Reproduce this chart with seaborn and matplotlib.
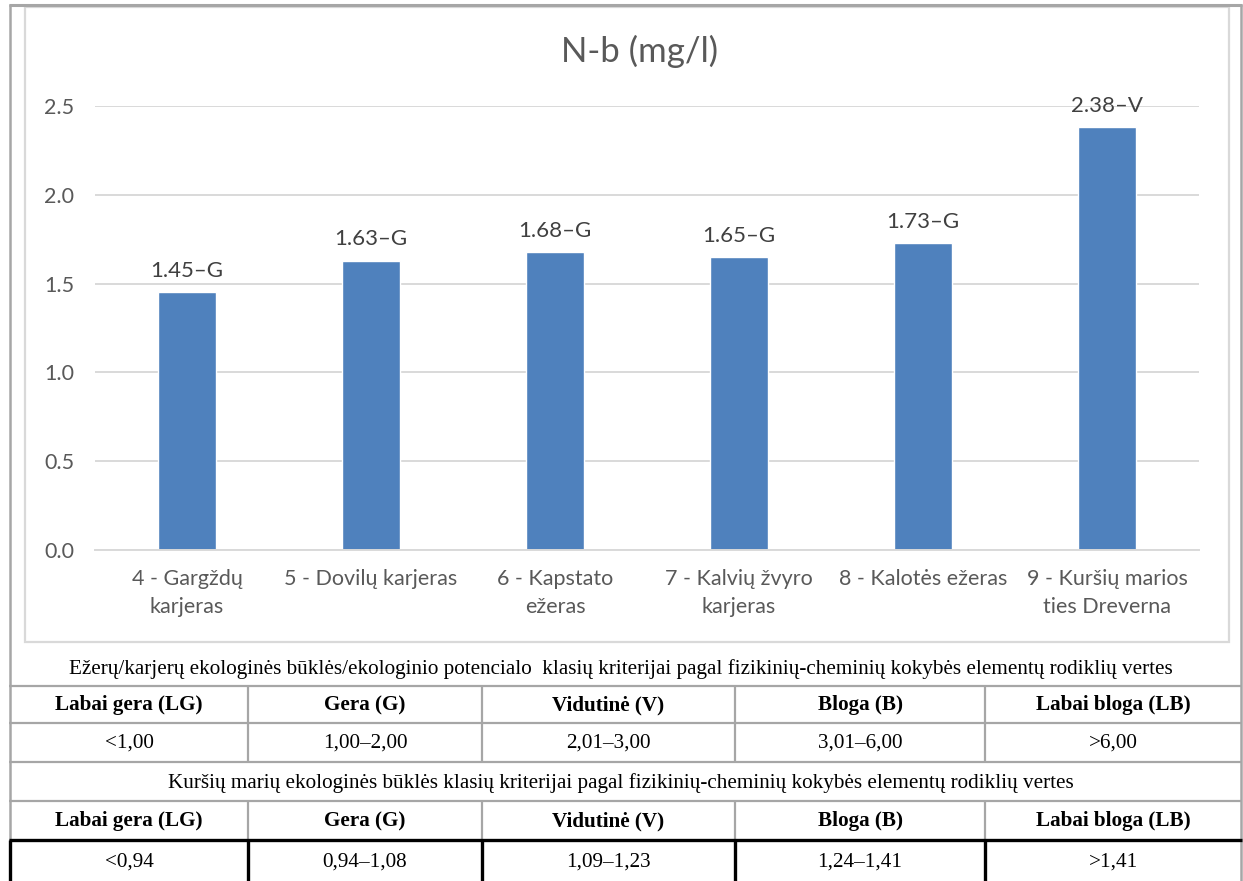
import matplotlib
matplotlib.use("Agg")
import matplotlib.pyplot as plt
from matplotlib.lines import Line2D
from matplotlib.patches import Rectangle
import seaborn as sns

# Sampling sites and total nitrogen concentration (mg/l)
sites = [
    "4 - Gargždų\nkarjeras",
    "5 - Dovilų karjeras",
    "6 - Kapstato\nežeras",
    "7 - Kalvių žvyro\nkarjeras",
    "8 - Kalotės ežeras",
    "9 - Kuršių marios\nties Dreverna",
]
n_total = [1.45, 1.63, 1.68, 1.65, 1.73, 2.38]
status = ["G", "G", "G", "G", "G", "V"]
y_ticks = [0.0, 0.5, 1.0, 1.5, 2.0, 2.5]
chart_title = "N-b (mg/l)"

# Classification criteria tables
lake_caption = ("Ežerų/karjerų ekologinės būklės/ekologinio potencialo  klasių kriterijai "
                "pagal fizikinių-cheminių kokybės elementų rodiklių vertes")
lagoon_caption = ("Kuršių marių ekologinės būklės klasių kriterijai pagal "
                  "fizikinių-cheminių kokybės elementų rodiklių vertes")
class_names = ["Labai gera (LG)", "Gera (G)", "Vidutinė (V)", "Bloga (B)", "Labai bloga (LB)"]
lake_limits = ["<1,00", "1,00–2,00", "2,01–3,00", "3,01–6,00", ">6,00"]
lagoon_limits = ["<0,94", "0,94–1,08", "1,09–1,23", "1,24–1,41", ">1,41"]

W, H = 1243, 881
fig = plt.figure(figsize=(W / 100, H / 100), dpi=100)
sns.set_style("white")
plt.rcParams["font.family"] = ["Lato", "DejaVu Sans"]


def fx(px):
    return px / W


def fy(py):
    return 1 - py / H


def hline(y, x0, x1, color, lw):
    fig.add_artist(Line2D([fx(x0), fx(x1)], [fy(y), fy(y)], color=color, lw=lw,
                          solid_capstyle="butt", transform=fig.transFigure))


def vline(x, y0, y1, color, lw):
    fig.add_artist(Line2D([fx(x), fx(x)], [fy(y0), fy(y1)], color=color, lw=lw,
                          solid_capstyle="butt", transform=fig.transFigure))


# Bar chart
ax = fig.add_axes([fx(95), fy(550), fx(1199) - fx(95), fy(106) - fy(550)])
sns.barplot(x=sites, y=n_total, color="#4F81BD", saturation=1, width=0.31, ax=ax)
ax.set_ylim(0, 2.5)
ax.set_yticks(y_ticks)
ax.set_yticklabels([f"{t:.1f}" for t in y_ticks])
ax.yaxis.grid(True, color="#D9D9D9", lw=1.4)
ax.set_axisbelow(True)
for side in ["top", "right", "left"]:
    ax.spines[side].set_visible(False)
ax.spines["bottom"].set_color("#D9D9D9")
ax.spines["bottom"].set_linewidth(1.4)
ax.tick_params(axis="both", length=0, labelcolor="#595959", labelsize=15.5)
ax.tick_params(axis="y", pad=15)
ax.tick_params(axis="x", pad=14)
for lbl in ax.get_xticklabels():
    lbl.set_linespacing(1.45)
ax.set_xlabel("")
ax.set_ylabel("")

for i, (v, s) in enumerate(zip(n_total, status)):
    ax.annotate(f"{v:.2f}–{s}", xy=(i, v), xytext=(0, 8), textcoords="offset points",
                ha="center", va="bottom", fontsize=16, color="#404040",
                annotation_clip=False, clip_on=False)

fig.text(fx(640), fy(51), chart_title, ha="center", va="center",
         fontsize=25, color="#595959")

# Chart frame and outer frame
fig.add_artist(Rectangle((fx(25), fy(642)), fx(1229) - fx(25), fy(7) - fy(642),
                         fill=False, edgecolor="#D9D9D9", lw=1.6, transform=fig.transFigure))
grey = "#A6A6A6"
hline(5, 9, 1242, grey, 2.2)
vline(10, 4, 881, grey, 1.8)
vline(1241, 4, 881, grey, 1.8)

# Criteria tables
col_edges = [10, 248, 482, 735, 985, 1241]
for y in [686, 723, 762, 801]:
    hline(y, 9, 1242, grey, 1.6)
for x in col_edges[1:-1]:
    vline(x, 686, 762, grey, 1.6)
    vline(x, 801, 840, grey, 1.6)
    vline(x, 840, 881, "black", 2.4)
hline(840, 9, 1242, "black", 2.4)
vline(10, 840, 881, "black", 2.4)

serif = ["Liberation Serif", "DejaVu Serif"]
fs = 15.2
centers = [(a + b) / 2 for a, b in zip(col_edges[:-1], col_edges[1:])]
fig.text(fx(621), fy(669), lake_caption, ha="center", va="center",
         fontsize=fs, family=serif, color="black")
fig.text(fx(621), fy(783), lagoon_caption, ha="center", va="center",
         fontsize=fs, family=serif, color="black")
for cx, name, a, b in zip(centers, class_names, lake_limits, lagoon_limits):
    fig.text(fx(cx), fy(705), name, ha="center", va="center", fontsize=fs,
             family=serif, weight="bold", color="black")
    fig.text(fx(cx), fy(743), a, ha="center", va="center", fontsize=fs,
             family=serif, color="black")
    fig.text(fx(cx), fy(821), name, ha="center", va="center", fontsize=fs,
             family=serif, weight="bold", color="black")
    fig.text(fx(cx), fy(862), b, ha="center", va="center", fontsize=fs,
             family=serif, color="black")

fig.savefig("out.png", dpi=100, facecolor="white")
